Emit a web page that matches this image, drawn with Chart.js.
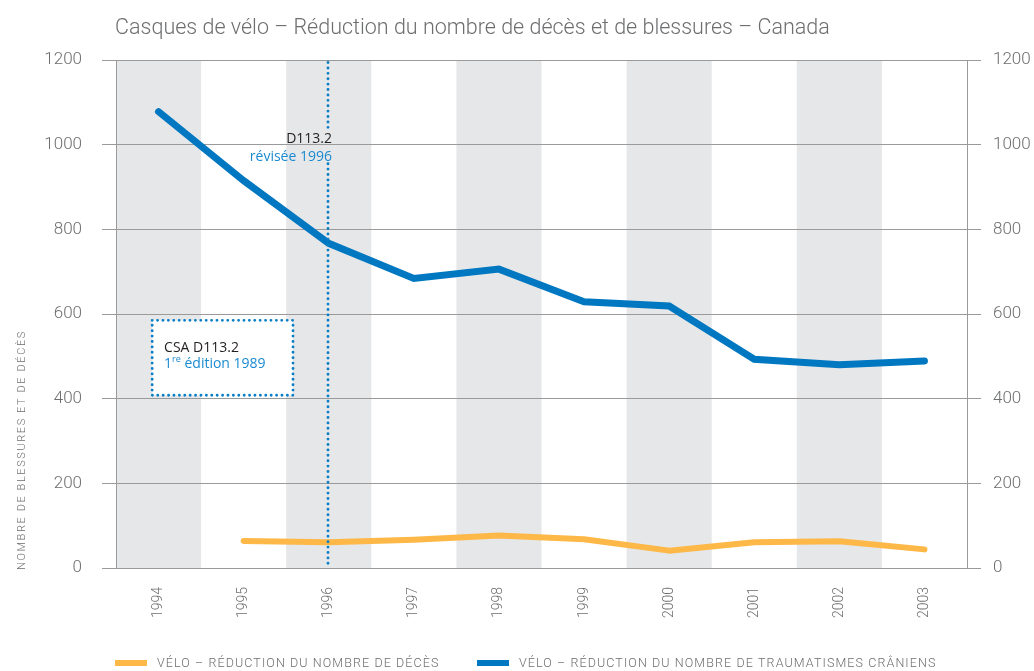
<!DOCTYPE html>
<html>
<head>
<meta charset="utf-8">
<script src="https://cdn.jsdelivr.net/npm/chart.js@4/dist/chart.umd.min.js"></script>
<style>
  html, body { margin: 0; padding: 0; background: #ffffff; }
  #wrap { width: 1034px; height: 671px; position: relative; }
</style>
</head>
<body>
<div id="wrap"><canvas id="c"></canvas></div>
<script>
// ---- data ----
const years = ['1994','1995','1996','1997','1998','1999','2000','2001','2002','2003'];
const headInjuries = [1078, 915, 767, 684, 706, 629, 619, 493, 480, 489];
const deaths = [null, 64, 61, 67, 77, 68, 41, 61, 63, 44];
const seriesLabels = ['VÉLO – RÉDUCTION DU NOMBRE DE DÉCÈS', 'VÉLO – RÉDUCTION DU NOMBRE DE TRAUMATISMES CRÂNIENS'];
const titleText = 'Casques de vélo – Réduction du nombre de décès et de blessures – Canada';
const yAxisTitle = 'NOMBRE DE BLESSURES ET DE DÉCÈS';
const yMin = 0, yMax = 1200, yStep = 200;
const shadedIdx = [0, 2, 4, 6, 8];
const revisionIdx = 2; // 1996
const revisionText = ['D113.2', 'révisée 1996'];
const firstEdText = ['CSA D113.2', '1', 're', ' édition 1989'];

const BLUE = '#0077c1';
const ORANGE = '#fdb848';
const GRID = '#9a9a9a';
const TXT = '#6d6e70';
const NOTE_BLUE = '#1b8ad1';

const bandsPlugin = {
  id: 'bands',
  beforeDraw(chart) {
    const { ctx, chartArea: a, scales: { x } } = chart;
    const half = (x.getPixelForValue(1) - x.getPixelForValue(0)) / 2;
    ctx.save();
    ctx.fillStyle = '#e6e7e8';
    shadedIdx.forEach(i => {
      const cx = x.getPixelForValue(i);
      const l = Math.max(a.left, cx - half), r = Math.min(a.right, cx + half);
      ctx.fillRect(l, a.top, r - l, a.bottom - a.top);
    });
    ctx.restore();
  }
};

function dotted(ctx) {
  ctx.strokeStyle = '#0a7ec6';
  ctx.lineWidth = 2.9;
  ctx.lineCap = 'round';
  ctx.setLineDash([0, 5.4]);
}

const notesPlugin = {
  id: 'notes',
  afterDatasetsDraw(chart) {
    const { ctx, chartArea: a, scales: { x, y } } = chart;
    ctx.save();
    // revision dotted line (with gap for label)
    const rx = Math.round(x.getPixelForValue(revisionIdx)) - 1;
    dotted(ctx);
    ctx.beginPath();
    ctx.moveTo(rx, y.getPixelForValue(1194)); ctx.lineTo(rx, y.getPixelForValue(1030));
    ctx.moveTo(rx, y.getPixelForValue(955)); ctx.lineTo(rx, y.getPixelForValue(0));
    ctx.stroke();
    ctx.setLineDash([]);
    ctx.font = '14px "Open Sans"';
    ctx.textAlign = 'right';
    ctx.textBaseline = 'middle';
    ctx.fillStyle = '#231f20';
    ctx.fillText(revisionText[0], rx + 4, y.getPixelForValue(1013));
    ctx.fillStyle = NOTE_BLUE;
    ctx.fillText(revisionText[1], rx + 4, y.getPixelForValue(971));

    // first edition box
    const bl = x.getPixelForValue(-0.075), br = x.getPixelForValue(1.58);
    const bt = y.getPixelForValue(585), bb = y.getPixelForValue(408);
    ctx.fillStyle = '#ffffff';
    ctx.fillRect(bl, bt, br - bl, bb - bt);
    dotted(ctx);
    ctx.beginPath();
    ctx.rect(bl, bt, br - bl, bb - bt);
    ctx.stroke();
    ctx.setLineDash([]);
    const tx = x.getPixelForValue(0.065);
    ctx.textAlign = 'left';
    ctx.fillStyle = '#231f20';
    ctx.font = '14px "Open Sans"';
    ctx.fillText(firstEdText[0], tx, y.getPixelForValue(520));
    ctx.fillStyle = NOTE_BLUE;
    const ly = y.getPixelForValue(482);
    ctx.fillText(firstEdText[1], tx, ly);
    let w = ctx.measureText(firstEdText[1]).width;
    ctx.font = '9px "Open Sans"';
    ctx.fillText(firstEdText[2], tx + w, ly - 5);
    const w2 = ctx.measureText(firstEdText[2]).width;
    ctx.font = '14px "Open Sans"';
    ctx.fillText(firstEdText[3], tx + w + w2, ly);
    ctx.restore();
  },
  afterDraw(chart) {
    const { ctx, chartArea: a, scales: { y } } = chart;
    ctx.save();
    // title
    ctx.font = '300 21.5px Roboto';
    ctx.fillStyle = TXT;
    ctx.textAlign = 'left';
    ctx.textBaseline = 'alphabetic';
    ctx.fillText(titleText, a.left - 1, 34);
    // y axis title
    ctx.save();
    ctx.translate(22, a.bottom + 2);
    ctx.rotate(-Math.PI / 2);
    ctx.font = '300 11px Roboto';
    ctx.letterSpacing = '1.6px';
    ctx.textAlign = 'left';
    ctx.textBaseline = 'middle';
    ctx.fillText(yAxisTitle, 0, 0);
    ctx.restore();
    // legend
    ctx.letterSpacing = '1.1px';
    ctx.font = '300 12.5px Roboto';
    ctx.textBaseline = 'middle';
    const ly = 663;
    const starts = [a.left - 1, 477];
    chart.data.datasets.forEach((ds, i) => {
      const sx = starts[i];
      ctx.fillStyle = ds.borderColor;
      ctx.fillRect(sx, ly - 3, 32, 6);
      ctx.fillStyle = TXT;
      ctx.fillText(ds.label, sx + 42, ly + 1);
    });
    ctx.restore();
  }
};

const plainTick = v => String(v);

new Chart(document.getElementById('c'), {
  type: 'line',
  data: {
    labels: years,
    datasets: [
      { label: seriesLabels[0], data: deaths, borderColor: ORANGE, backgroundColor: ORANGE,
        borderWidth: 6, pointRadius: 0, tension: 0, borderCapStyle: 'round', borderJoinStyle: 'round', yAxisID: 'y' },
      { label: seriesLabels[1], data: headInjuries, borderColor: BLUE, backgroundColor: BLUE,
        borderWidth: 7, pointRadius: 0, tension: 0, borderCapStyle: 'round', borderJoinStyle: 'miter', yAxisID: 'y' }
    ]
  },
  options: {
    responsive: true,
    maintainAspectRatio: false,
    animation: false,
    layout: { padding: { top: 60, left: 0, right: 0, bottom: 0 } },
    plugins: { legend: { display: false }, title: { display: false }, tooltip: { enabled: false } },
    scales: {
      x: {
        type: 'category',
        offset: true,
        grid: { display: false, drawTicks: false },
        border: { display: false },
        ticks: { color: TXT, font: { family: 'Roboto', weight: '300', size: 14 }, minRotation: 90, maxRotation: 90, padding: 19, autoSkip: false },
        afterFit(s) { s.height = 103; }
      },
      y: {
        position: 'left',
        min: yMin, max: yMax,
        grid: { color: GRID, lineWidth: 1, tickLength: 14, drawTicks: true },
        border: { display: true, color: GRID, width: 1 },
        ticks: { stepSize: yStep, color: TXT, font: { family: 'Roboto', weight: '300', size: 17 }, padding: 20, callback: plainTick },
        afterFit(s) { s.width = 116; }
      },
      y2: {
        position: 'right',
        min: yMin, max: yMax,
        grid: { color: GRID, lineWidth: 1, tickLength: 14, drawOnChartArea: false },
        border: { display: true, color: GRID, width: 1 },
        ticks: { stepSize: yStep, color: TXT, font: { family: 'Roboto', weight: '300', size: 17 }, padding: 12, callback: plainTick },
        afterFit(s) { s.width = 67; }
      }
    }
  },
  plugins: [bandsPlugin, notesPlugin]
});
</script>
</body>
</html>
